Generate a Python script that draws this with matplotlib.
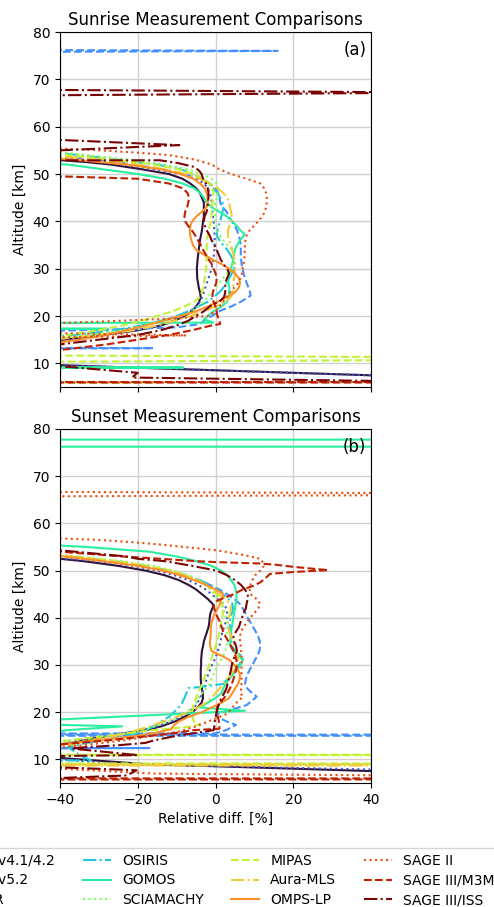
import numpy as np
import matplotlib
matplotlib.use("Agg")
import matplotlib.pyplot as plt

labels = ["ACE-FTS v4.1/4.2", "ACE-FTS v5.2", "Odin-SMR", "OSIRIS", "GOMOS",
          "SCIAMACHY", "MIPAS", "Aura-MLS", "OMPS-LP", "SAGE II",
          "SAGE III/M3M", "SAGE III/ISS"]
styles = ["-", ":", "--", "-."] * 3

# ---------------- Sunrise (a) : altitude [km] / relative difference [%] ----------------
rise_ace41_alt = [60, 55, 54, 53, 52.5, 52, 51, 50, 49, 48, 47, 46, 45, 44, 43, 42, 41, 40, 38, 36, 34, 32, 30, 28, 26, 25, 24, 23, 22, 21, 20, 19, 18, 17, 16, 15, 14, 13, 12, 11, 10, 6]
rise_ace41_val = [-200, -120, -70, -41, -33, -27, -19, -12, -8.5, -6.5, -5, -4, -3.5, -3, -3, -3, -3, -3.2, -3.5, -4, -4.3, -4.6, -4.8, -4.7, -4.3, -4, -3.8, -4.2, -5, -6, -8, -10.5, -14, -20, -29, -39, -55, -80, -110, -90, -55, 95]

rise_ace52_alt = [60, 55, 54, 53.5, 53, 52, 51, 50, 49, 48, 47, 46, 45, 44, 42, 40, 38, 36, 34, 32, 30, 28, 26, 25, 24, 23, 22, 21, 20, 19, 18, 17, 16, 15, 14, 13, 12, 11, 10, 6]
rise_ace52_val = [-200, -100, -55, -40, -33, -24, -16, -9, -5, -3, -2, -1.5, -1, -1, -0.8, -0.5, -0.3, -0.2, -0.3, -0.5, -1, -1.8, -2.6, -3, -3.4, -4, -5, -6.5, -8.5, -11, -14.5, -20, -28, -38, -52, -80, -110, -90, -55, 95]

rise_smr_alt = [80, 77, 76, 75, 60, 55, 54, 53.5, 53, 52, 51, 50, 49, 48, 47, 46, 45, 44, 43, 42, 41, 40, 39, 38, 37, 36, 35, 34, 33, 32, 31, 30, 29, 28, 27, 26, 25, 24.3, 24, 23, 22, 21.1, 20, 19, 18.3, 17.6, 17.2, 16.8, 15, 14, 13.2, 12.5]
rise_smr_val = [-300, -300, 16, -300, -300, -120, -50, -38, -30, -21, -14, -8, -4, -1.5, 0, 0.7, 1, 1.2, 1.8, 2.9, 3.5, 4.2, 5, 5.6, 6, 6.3, 6.5, 6.5, 6.5, 6.6, 6.7, 7, 7.2, 7.6, 8, 8.5, 8.9, 9, 8.5, 6.5, 4, 1.2, -1, -3, -4, -10, -25, -45, -150, -300, -16, -300]

rise_osiris_alt = [60, 55.5, 55, 54.5, 54, 53, 52, 51, 50, 49, 48, 47, 46, 45, 44, 43, 42, 41, 40, 39, 38, 37, 36, 35, 34, 33, 32, 31, 30, 29, 28, 27, 26, 25, 24, 23, 22, 21, 20, 19, 18, 17, 16, 15.5, 14, 10]
rise_osiris_val = [-200, -100, -60, -42, -35, -25, -15, -9, -5.5, -3.5, -2, -0.5, 0.5, 1.2, 1.8, 2, 1.8, 1.5, 1.2, 0.8, 0.5, 0.3, 1, 2, 3, 3.8, 4.5, 5, 4.8, 4.2, 3.6, 2.8, 2, 1, -0.5, -2, -4.5, -7, -10, -14, -19, -26, -36, -45, -150, -200]

rise_gomos_alt = [60, 53.5, 52.5, 52, 51, 50, 49, 48, 47, 46, 45, 44, 43, 42, 41, 40, 39, 38, 37.3, 37, 36, 35, 34, 33, 32, 31, 30, 29, 28, 27, 26, 25, 24, 23, 22, 21, 20, 19.3, 18.6, 18.0, 17.3, 16.6, 9.5, 9.1, 8.7]
rise_gomos_val = [-200, -90, -48, -38, -29, -20, -13, -8.5, -5.5, -4, -3, -2.3, -1, 1, 3, 4.3, 5.5, 6.5, 7.5, 7.3, 6.3, 5.6, 5, 4.8, 4.6, 4.3, 4, 3.6, 3.3, 3.3, 3.6, 3.5, 3.5, 3, 1.5, -0.5, -2, -3, -0.5, -400, -28, -400, -400, -8.3, -400]

rise_scia_alt = [60, 55.5, 54.8, 54, 53, 52, 51, 50, 49, 48, 47, 46, 45, 44, 42, 40, 38, 37, 36, 35, 34, 33, 32, 31, 30, 29, 28, 27, 26, 25, 24, 23, 22, 21, 20, 19, 18, 17, 16, 15.3, 14]
rise_scia_val = [-200, -100, -42, -33, -22, -13, -7, -3.5, -1, 0.3, 0.7, 0.6, 0.3, 0, -0.2, 0, 0.5, 1, 2, 3, 4.2, 5, 4.8, 4.5, 3.8, 3, 2, 1, 0, -1, -2, -3, -4.5, -6, -9, -13, -18, -24, -32, -41, -120]

rise_mipas_alt = [60, 55, 54.2, 54, 53, 52, 51, 50, 49, 48, 47, 46, 45, 44, 43, 42, 41, 40, 38, 36, 34, 32, 30, 28, 26, 25, 24, 23, 22, 21, 20, 19, 18, 17, 16, 15.5, 14, 12, 11, 10, 6.3, 6.0, 5.7]
rise_mipas_val = [-200, -90, -42, -38, -26, -16, -9.5, -5.5, -3, -1.5, -0.8, -0.5, -0.6, -0.8, -1, -1, -1, -1.2, -1.8, -2.2, -2.3, -2.3, -2.4, -2.8, -3.2, -3.5, -4, -5.5, -8, -11, -15, -19, -24, -30, -38, -45, -133, -133, 133, -133, -300, -15, -300]

rise_mls_alt = [60, 55, 54, 53.5, 53, 52, 51, 50, 49, 48, 47, 46, 45, 44, 43, 42, 41, 40, 39, 38, 37, 36, 35, 34, 33, 32, 31, 30, 29, 28, 27, 26, 25, 24, 23, 22, 21, 20, 19, 18, 17, 16, 15, 14]
rise_mls_val = [-200, -80, -45, -36, -29, -20, -13, -7.5, -4, -1.5, 0.5, 2, 3, 3.5, 3.7, 4, 4.2, 4, 3.5, 3.2, 3.2, 3.5, 4, 4.3, 4.6, 4.8, 5, 5, 5, 4.8, 4.6, 4.5, 4.5, 4, 2.5, 0, -3, -6.5, -10.5, -15, -21, -30, -42, -100]

rise_omps_alt = [60, 55, 54, 53.2, 53, 52, 51, 50, 49, 48, 47, 46, 45, 44, 43, 42, 41, 40, 39, 38, 37, 36, 35, 34, 33, 32, 31, 30, 29, 28, 27, 26, 25, 24, 23, 22, 21, 20, 19, 18, 17, 16, 15, 14.3, 13.5]
rise_omps_val = [-200, -100, -60, -40, -36, -23, -14, -9, -5.7, -4, -2.8, -2.3, -2, -2, -2.3, -3.5, -5, -6, -6.5, -6.6, -6.5, -6.2, -5.8, -5, -3, -1, 1.5, 3.5, 5, 6, 6.3, 6, 5, 3, 0.5, -2, -5, -9, -13.5, -18, -23, -28, -35, -41, -100]

rise_sage2_alt = [60, 56, 55.5, 55, 54.5, 54, 53, 52, 51, 50, 49, 48, 47, 46, 45, 44, 43, 42, 41, 40, 39, 38, 37, 36, 35, 34, 33, 32, 31, 30, 29, 28, 27, 26, 25, 24, 23, 22, 21, 20, 19.5, 19.2, 18.8, 18.5, 17.5, 15.9, 14.5]
rise_sage2_val = [-200, -70, -42, -30, -20, -12, -5, -1, 1, 4, 8, 11.5, 12.5, 13, 13.2, 13.2, 13, 12.7, 12, 11, 9.8, 8.7, 8, 7.7, 7.6, 7.5, 7.5, 7.4, 7.2, 7, 6.8, 6.4, 5.8, 4.8, 3.8, 2.8, 2, 1, 0, -2, -10, -19, -30, -42, -120, -7.5, -120]

rise_m3m_alt = [60, 51, 50.5, 49, 48, 47, 46, 45, 44, 43, 42, 41, 40, 39, 38, 37, 36, 35, 34, 33, 32, 31, 30, 29, 28, 27, 26, 25, 24, 23, 22, 21, 20, 19, 18.3, 18, 17, 16, 15, 14, 13, 12.5, 11, 7, 6.1, 6.0, 5.9]
rise_m3m_val = [-200, -200, -80, -20, -12, -8.5, -7.2, -6.8, -7, -7.3, -7.8, -8, -7.8, -7, -6, -5.2, -4.5, -3.8, -3.2, -2.5, -1.8, -1, -0.5, 0, 0.3, 0.2, -0.3, -0.7, -0.8, -0.5, 0, 0.3, 0.5, 1, 1.2, -1, -6, -12, -20, -28, -38, -45, -200, -600, -600, 600, -600]

rise_iss_alt = [80, 68.2, 67.2, 66.2, 59.35, 56.1, 52.85, 52.9, 52.3, 51.5, 50.7, 50, 49, 48, 47, 46, 45, 44, 43, 42, 41, 40, 39, 38, 37, 36, 35, 34, 33, 32, 31, 30, 29, 28, 27, 26, 25, 24, 23, 22.5, 22, 21, 20, 19, 18, 17, 16, 15, 14, 13, 12.5, 10.8, 8.0, 7.0, 5.6]
rise_iss_val = [-120, -120, 60, -120, -100, -9.3, -100, -14.3, -9.6, -5.5, -4.2, -3.6, -3.2, -2.5, -2, -1.8, -1.8, -2, -2, -2.3, -2.8, -3, -2.7, -2.2, -1.5, -1, -0.3, 0.3, 0.8, 1.3, 2, 3, 3.5, 3, 2.5, 2.5, 2.5, 2.2, 1, -0.6, -1.5, -3, -5, -7, -10, -14, -20, -30, -40, -100, -100, -60, -20, -21.5, 100]

# ---------------- Sunset (b) ----------------
set_ace41_alt = [60, 54, 53, 52.5, 52, 51, 50, 49, 48, 47, 46, 45, 44, 43, 42.5, 42, 41, 40, 39, 38, 37, 36, 35, 34, 33, 32, 31, 30, 29, 28, 27, 26, 25, 24, 23, 22, 21, 20, 19, 18, 17, 16.2, 15.5, 14.5, 13.5, 13, 12, 11.5, 9.0, 6.0]
set_ace41_val = [-200, -90, -50, -40, -34, -25, -18, -13, -9.5, -7, -5, -3.5, -2, -0.8, -0.5, -0.8, -1.3, -1.5, -1.6, -1.8, -2.2, -2.6, -3, -3.2, -3.5, -3.6, -3.7, -3.7, -3.8, -3.8, -3.8, -3.7, -3.5, -3.3, -3.2, -3.6, -4.6, -6, -8, -10.5, -14, -18, -24, -31, -37, -41, -100, -60, -18, 100]

set_ace52_alt = [60, 53.5, 52.8, 52.5, 52, 51, 50, 49, 48, 47, 46, 45, 44, 43, 42, 41, 40, 39, 38, 37, 36, 35, 34, 33, 32, 31, 30, 29, 28, 27, 26, 25, 24, 23, 22, 21, 20, 19, 18, 17, 16, 15, 14, 13.5, 12, 11.5, 9.0, 6.8]
set_ace52_val = [-200, -90, -45, -38, -30, -21, -15, -10.5, -7, -4.5, -2.5, -1, 0.5, 2, 2.8, 3, 3, 2.6, 2.2, 1.8, 1.5, 1.3, 1, 0.6, 0.2, -0.3, -0.9, -1.4, -1.9, -2.3, -2.6, -3, -3.5, -4, -4.6, -5.5, -7, -9, -11.5, -15, -20, -28, -37, -45, -100, -60, -25, 100]

set_smr_alt = [60, 54, 53.3, 53, 52, 51, 50, 49, 48, 47, 46, 45, 44, 43, 42, 41, 40, 39, 38, 37, 36, 35, 34, 33, 32, 31, 30, 29, 28, 27, 26, 25, 24, 23.3, 22.5, 21.5, 21, 20.3, 19.6, 19, 18, 17.3, 16.3, 15.5, 15.3, 15.2, 14.8, 12.4, 11.5]
set_smr_val = [-200, -80, -45, -38, -27, -19, -13, -8, -4.5, -1.5, 1, 3, 4.8, 6.2, 7, 7.7, 8.3, 9, 9.7, 10.4, 11, 11.4, 11.5, 11.3, 10.8, 10.1, 9.5, 8.8, 8.2, 7.8, 7.6, 8.2, 9.5, 10.6, 9.5, 8, 6, 3, 0.4, 0.3, 3, 5.3, 3, 0, -3000, 3000, -3000, -17, -300]

set_osiris_alt = [60, 54, 53.5, 53, 52, 51, 50, 49, 48, 47, 46, 45, 44, 43, 42, 41, 40, 39, 38, 37, 36, 35, 34, 33, 32, 31.5, 31, 30, 29, 28, 27, 26, 25.3, 25.1, 24, 23, 22, 21, 20, 19, 18, 17, 16, 15.2, 14.5, 13.5, 12.6, 11.5, 10.5, 9.8, 9.5]
set_osiris_val = [-200, -80, -45, -38, -26, -18, -12, -7.5, -4, -1.5, 0.5, 2, 3.3, 4.3, 4.5, 4.2, 3.8, 3.6, 3.7, 3.9, 4, 4.1, 4.3, 5, 6.5, 7.2, 6.8, 6, 5, 4, 3, 2, -4.2, -7, -7.5, -8, -8.6, -9.5, -10.7, -12, -14, -16, -18.5, -21.7, -26, -33, -38, -36, -34, -32, -100]

set_gomos_alt = [80, 78.5, 77, 75.5, 60, 56.5, 55.6, 55.3, 55, 54.5, 54, 53, 52, 51, 50, 49, 48, 47, 46, 45, 44, 43, 42, 41, 40, 39, 38, 37, 36, 35, 34, 33, 32, 31, 30, 29, 28, 27, 26, 25, 24, 23, 22, 21, 20.3, 17.7, 17.0, 16.2, 15.0, 14.0]
set_gomos_val = [-5000, -5000, 5000, -5000, -200, -100, -45, -40, -33, -25, -17, -10, -5, -1, 1.5, 3, 4, 4.8, 5.2, 5.4, 5.4, 5.2, 5, 4.8, 4.6, 4.4, 4.2, 4, 3.9, 3.8, 3.8, 4.5, 6, 7, 6.5, 5.5, 4.5, 3.5, 2.5, 2, 1.5, 0, -2, -4, 7.6, -60, -24, -38, -50, -300]

set_scia_alt = [60, 54, 53.4, 53, 52, 51, 50, 49, 48, 47, 46, 45, 44, 43, 42, 41, 40, 39, 38, 37, 36, 35, 34, 33, 32, 31, 30, 29, 28, 27, 26, 25, 24, 23, 22, 21, 20, 19, 18, 17, 16, 15, 14, 13.3, 12.5]
set_scia_val = [-200, -70, -42, -36, -24, -16, -11, -7, -4.5, -2.5, -1.2, -0.3, 0.5, 1.3, 2, 2.4, 2.7, 2.9, 3, 3, 3, 3, 2.9, 2.5, 2, 1.3, 0.6, 0, -0.5, -1, -1.5, -2.5, -3.5, -4.3, -5, -6, -7.5, -9.5, -12, -15.5, -20, -26, -33, -40, -100]

set_mipas_alt = [60, 54, 53.3, 53, 52, 51, 50, 49, 48, 47, 46, 45, 44, 43, 42, 41, 40, 39, 38, 37, 36, 35, 34, 33, 32, 31, 30, 29, 28, 27, 26, 25, 24, 23, 22, 21, 20, 19, 18, 17.4, 17, 16.5, 16, 15, 14, 13.8, 12, 11.05, 10.95, 10.85, 9.25, 9.05, 8.95]
set_mipas_val = [-200, -70, -42, -36, -25, -17, -11.5, -7.5, -4.5, -2.5, -1, 0.3, 1.1, 1.8, 2, 1.9, 1.7, 1.4, 1.2, 1, 0.7, 0.4, 0, -0.4, -0.8, -1.2, -1.6, -2.1, -2.6, -3, -3.4, -4, -4.6, -5, -5.5, -5.8, -6, -6, -5.5, -4, -6, -12, -18, -28, -38, -42, -200, -3000, 3000, -3000, -3000, 3000, -3000]

set_mls_alt = [60, 54, 53.2, 53, 52, 51, 50, 49, 48, 47, 46, 45, 44, 43, 42, 41, 40, 39, 38, 37, 36, 35, 34, 33, 32, 31, 30, 29, 28, 27, 26, 25, 24, 23, 22, 21, 20, 19, 18, 17, 16, 15, 14, 13, 12.7, 11, 9.0, 8.8, 8.6]
set_mls_val = [-200, -70, -42, -38, -27, -19, -12.5, -8, -4.8, -2.5, -0.8, 0.8, 2.5, 3.7, 4, 3.8, 3.4, 3.2, 3.3, 3.6, 4, 4.5, 5, 5.5, 5.8, 5.8, 5.5, 4.8, 4, 3, 2, 1, 0, -1, -2.5, -4.5, -7, -10, -13.5, -17, -21, -26, -32, -38, -42, -200, -3000, 3000, -3000]

set_omps_alt = [60, 54, 53.1, 53, 52, 51, 50, 49, 48, 47, 46, 45.1, 44.4, 44, 43, 42, 41.6, 41, 40, 39, 38, 37, 36, 35, 34, 33, 32.4, 32, 31, 30, 29, 28, 27, 26, 25, 24, 23, 22, 21, 20, 19, 18, 17, 16.4, 15.7, 15, 14, 13.2, 12.5]
set_omps_val = [-200, -80, -42, -39, -29, -20, -13.5, -9, -5.5, -2.5, 0, 2, 2, 1.5, 1.2, 0.6, 0.3, -0.2, -0.6, -1, -1.2, -1.2, -1.3, -1.4, -1.4, -1, 0.3, 1.5, 3.7, 4.8, 5.8, 6.3, 6.2, 5.8, 5, 4.3, 3.5, 1.5, -1, -3.5, -7, -9.5, -11, -11.4, -15, -20, -31, -40, -100]

set_sage2_alt = [80, 67.2, 66.2, 65.2, 57.5, 56.9, 56.5, 56, 55.5, 55, 54.3, 53.5, 53, 52.5, 52, 51, 50, 49, 48, 47, 46, 45, 44, 43, 42, 41, 40, 39, 38, 37, 36, 35, 34, 33, 32, 31, 30, 29, 28, 27, 26, 25, 24, 23.3, 22.5, 21.5, 20.4, 19.5, 19, 18, 17, 16, 15, 14, 13, 12.5, 11, 10.6, 7.0, 5.9]
set_sage2_val = [-241, -241, 131, -241, -100, -42, -30, -21, -14, -8, 0.3, 6, 9, 11.5, 12, 12.4, 11.5, 10.2, 9.5, 9, 8.8, 9, 10.5, 11.5, 11, 10, 8.9, 8, 7.2, 6.5, 6.3, 6.3, 6.5, 6.6, 6.7, 6.7, 6.7, 6.7, 6.7, 6.7, 6.7, 6.6, 6.4, 7.1, 6, 4.8, 3.8, 2.5, 1, -2, -5, -9, -16, -24, -34, -42, -150, -100, -16, 150]

set_m3m_alt = [60, 55, 54.3, 54, 53.5, 53, 52.5, 52, 51.8, 51.5, 51.2, 50.8, 50.4, 50.1, 49.7, 49.3, 48.5, 47.5, 46.8, 46, 45, 44, 43.5, 42.5, 42, 41, 40, 39, 38, 37, 36, 35, 34, 33, 32, 31, 30, 29, 28, 27, 26, 25, 24, 23, 22, 21, 20, 19, 18.4, 17.5, 16.5, 16.2, 15.5, 14.9, 14, 13.2, 12.5, 7, 6.05, 5.9, 5.6]
set_m3m_val = [-200, -150, -45, -40, -32, -24, -14, -5, 0.3, 11.5, 16, 20, 25, 29, 20, 14, 13, 11.5, 9.8, 7, 4.7, 1.5, 0.2, -0.5, -0.3, 0, 0.6, 1.2, 1.6, 2, 2.6, 3.3, 4, 4.6, 5.1, 5.4, 5.5, 5.3, 5, 4.6, 4.2, 3.7, 3, 2.2, 1.2, 0.4, 0.3, 0.6, 0.8, 1, 1, -5.7, -11, -17.7, -28, -40, -100, -600, -600, 600, -600]

set_iss_alt = [60, 55, 54.3, 54, 53, 52.5, 52, 51, 50, 49, 48, 47, 46, 45, 44, 43, 42, 41, 40, 39, 38, 37, 36, 35, 34, 33, 32, 31, 30, 29, 28, 27, 26, 25, 24, 23, 22, 21, 20, 19, 18, 17, 16.2, 15.5, 15, 14, 13.5, 13, 12.5, 12.3, 10.9, 10.2, 7.7, 6.6, 5.9, 5.5]
set_iss_val = [-200, -100, -40, -36, -23, -20, -13, -6, 0.3, 3, 5, 6.5, 7.6, 8.3, 8.3, 8, 7.8, 7.2, 6.8, 6.4, 6, 5.2, 4.6, 4.8, 5.3, 5.5, 5, 4.5, 4.2, 4, 3.7, 3.4, 3.1, 2.8, 2.2, 1.5, 1, 0.6, 0.3, 0, -0.2, -0.3, -0.5, -6, -10, -16, -18, -25, -35, -37, -20, -100, -20.3, -22.8, -45, -300]

xticks = [-40, -20, 0, 20, 40]
yticks = [10, 20, 30, 40, 50, 60, 70, 80]

sunrise = [(rise_ace41_alt, rise_ace41_val), (rise_ace52_alt, rise_ace52_val),
           (rise_smr_alt, rise_smr_val), (rise_osiris_alt, rise_osiris_val),
           (rise_gomos_alt, rise_gomos_val), (rise_scia_alt, rise_scia_val),
           (rise_mipas_alt, rise_mipas_val), (rise_mls_alt, rise_mls_val),
           (rise_omps_alt, rise_omps_val), (rise_sage2_alt, rise_sage2_val),
           (rise_m3m_alt, rise_m3m_val), (rise_iss_alt, rise_iss_val)]
sunset = [(set_ace41_alt, set_ace41_val), (set_ace52_alt, set_ace52_val),
          (set_smr_alt, set_smr_val), (set_osiris_alt, set_osiris_val),
          (set_gomos_alt, set_gomos_val), (set_scia_alt, set_scia_val),
          (set_mipas_alt, set_mipas_val), (set_mls_alt, set_mls_val),
          (set_omps_alt, set_omps_val), (set_sage2_alt, set_sage2_val),
          (set_m3m_alt, set_m3m_val), (set_iss_alt, set_iss_val)]

colors = matplotlib.colormaps["turbo"](np.linspace(0, 1, len(labels)))

W, H = 494, 907
fig = plt.figure(figsize=(W / 100, H / 100), dpi=100)
ax1 = fig.add_axes([60 / W, 1 - 387 / H, 311 / W, 355 / H])
ax2 = fig.add_axes([60 / W, 1 - 783 / H, 311 / W, 354 / H])

handles = []
for ax, data, title, tag in [(ax1, sunrise, "Sunrise Measurement Comparisons", "(a)"),
                             (ax2, sunset, "Sunset Measurement Comparisons", "(b)")]:
    for i, (alt, val) in enumerate(data):
        ln, = ax.plot(val, alt, color=colors[i], ls=styles[i], lw=1.5, label=labels[i])
        if ax is ax1:
            handles.append(ln)
    ax.set_xlim(-40, 40)
    ax.set_ylim(5, 80)
    ax.set_xticks(xticks)
    ax.set_yticks(yticks)
    ax.grid(True, color="0.82", lw=1.0)
    ax.set_axisbelow(True)
    ax.set_title(title, fontsize=12, pad=5)
    ax.set_ylabel("Altitude [km]", fontsize=10)
    ax.tick_params(labelsize=10)
    ax.text(0.985, 0.975, tag, transform=ax.transAxes, ha="right", va="top", fontsize=12)

ax1.tick_params(labelbottom=False)
ax2.set_xlabel("Relative diff. [%]", fontsize=10)

fig.legend(handles, labels, ncol=4, loc="upper left",
           bbox_to_anchor=(-108 / W, 1 - 848 / H), borderaxespad=0,
           labelspacing=0.42, fontsize=10, frameon=True)

fig.savefig("out.png", dpi=100)
